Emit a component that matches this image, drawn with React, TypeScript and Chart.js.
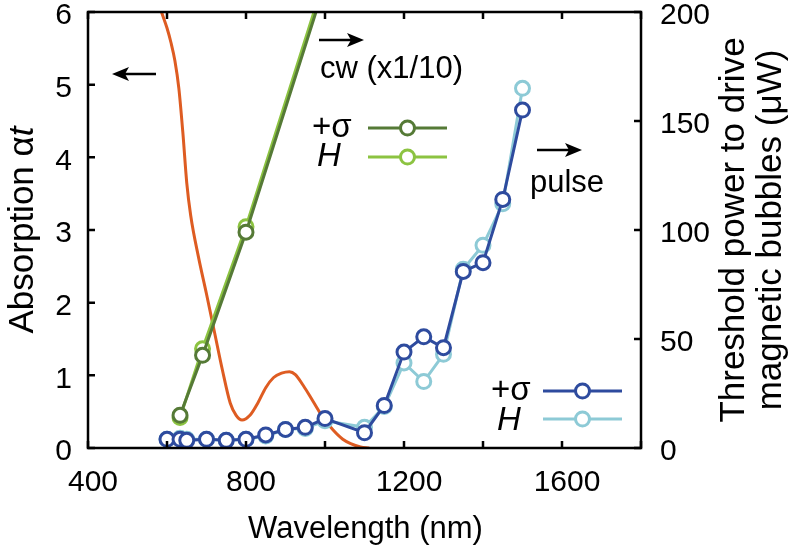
import React, { useEffect, useRef } from 'react';
import { Chart, registerables } from 'chart.js';

Chart.register(...registerables);

const FONT = '"Liberation Sans", Arial, Helvetica, sans-serif';

// tick labels
const xTickLabels = [400, 800, 1200, 1600];
const xTickMarks = [400, 600, 800, 1000, 1200, 1400, 1600, 1800];
const leftTickLabels = [0, 1, 2, 3, 4, 5, 6];
const rightTickLabels = [0, 50, 100, 150, 200];

// absorption spectrum (left axis)
const absWavelength = [586, 600, 610, 620, 630, 640, 650, 660, 680, 700, 720, 740, 760, 775, 790, 810, 830, 850, 870, 890, 910, 925, 945, 970, 995, 1020, 1045, 1065, 1090, 1112];
const absValue = [6.0, 5.78, 5.58, 5.33, 4.95, 4.35, 3.65, 3.2, 2.62, 2.12, 1.6, 1.08, 0.62, 0.45, 0.385, 0.45, 0.62, 0.83, 0.97, 1.03, 1.05, 1.01, 0.86, 0.64, 0.42, 0.25, 0.12, 0.06, 0.015, 0.0];

// cw threshold (x1/10), right axis
const cwWavelength = [633, 690, 800, 1000];
const cwSigma = [15, 42.5, 99, 213];
const cwH = [14, 45.5, 101.5, 216];

// pulse threshold, right axis
const pulseWavelength = [600, 633, 650, 700, 750, 800, 850, 900, 950, 1000, 1100, 1150, 1200, 1250, 1300, 1350, 1400, 1450, 1500];
const pulseSigma = [4, 4, 3.5, 4, 3.5, 4, 6, 8.5, 9.5, 13.5, 7, 19.5, 44, 51, 46, 81, 85, 114, 155];
const pulseH = [4, 4.5, 4, 4, 3.5, 4, 5.5, 8.5, 9, 12.5, 9.5, 19, 39, 30.5, 43, 82, 93, 112, 165];

const ORANGE = '#de5c22';
const DGREEN = '#557a36';
const LGREEN = '#8cc341';
const DBLUE = '#2e4b9e';
const LBLUE = '#8dcad6';

const pts = (xs: number[], ys: number[]) => xs.map((x, i) => ({ x, y: ys[i] }));

function arrow(ctx: CanvasRenderingContext2D, x1: number, x2: number, y: number) {
  const dir = Math.sign(x2 - x1);
  ctx.save();
  ctx.strokeStyle = '#000';
  ctx.fillStyle = '#000';
  ctx.lineWidth = 2.5;
  ctx.beginPath();
  ctx.moveTo(x1, y);
  ctx.lineTo(x2 - dir * 10, y);
  ctx.stroke();
  ctx.beginPath();
  ctx.moveTo(x2, y);
  ctx.lineTo(x2 - dir * 17, y - 7);
  ctx.lineTo(x2 - dir * 13, y);
  ctx.lineTo(x2 - dir * 17, y + 7);
  ctx.closePath();
  ctx.fill();
  ctx.restore();
}

function legendSample(ctx: CanvasRenderingContext2D, x1: number, x2: number, y: number, color: string) {
  ctx.save();
  ctx.strokeStyle = color;
  ctx.lineWidth = 3;
  ctx.beginPath();
  ctx.moveTo(x1, y);
  ctx.lineTo(x2, y);
  ctx.stroke();
  ctx.beginPath();
  ctx.arc((x1 + x2) / 2, y, 7, 0, Math.PI * 2);
  ctx.fillStyle = '#fff';
  ctx.fill();
  ctx.stroke();
  ctx.restore();
}

const decorPlugin = {
  id: 'decor',
  afterDraw(chart: any) {
    const ctx: CanvasRenderingContext2D = chart.ctx;
    const { left, right, top, bottom } = chart.chartArea;
    const xs = chart.scales.x;
    const ys = chart.scales.y;
    const ys1 = chart.scales.y1;
    ctx.save();
    // frame
    ctx.strokeStyle = '#000';
    ctx.lineWidth = 2.5;
    ctx.strokeRect(left, top, right - left, bottom - top);
    // inward ticks
    const tl = 7;
    ctx.beginPath();
    xTickMarks.forEach((v) => {
      const px = xs.getPixelForValue(v);
      ctx.moveTo(px, bottom);
      ctx.lineTo(px, bottom - tl);
      ctx.moveTo(px, top);
      ctx.lineTo(px, top + tl);
    });
    leftTickLabels.forEach((v) => {
      const py = ys.getPixelForValue(v);
      ctx.moveTo(left, py);
      ctx.lineTo(left + tl, py);
    });
    rightTickLabels.forEach((v) => {
      const py = ys1.getPixelForValue(v);
      ctx.moveTo(right, py);
      ctx.lineTo(right - tl, py);
    });
    ctx.stroke();

    // arrows and annotations
    arrow(ctx, 156, 112, 74);
    arrow(ctx, 319, 364, 40);
    arrow(ctx, 537, 582, 150);
    ctx.fillStyle = '#000';
    ctx.textAlign = 'left';
    ctx.textBaseline = 'alphabetic';
    ctx.font = `31px ${FONT}`;
    ctx.fillText('cw (x1/10)', 320, 78);
    ctx.fillText('pulse', 530, 192);

    // legends
    ctx.font = `33px ${FONT}`;
    ctx.fillText('+σ', 312, 137);
    ctx.font = `italic 33px ${FONT}`;
    ctx.fillText('H', 317, 166);
    legendSample(ctx, 368, 447, 128, DGREEN);
    legendSample(ctx, 368, 447, 157, LGREEN);

    ctx.font = `33px ${FONT}`;
    ctx.fillText('+σ', 491, 400);
    ctx.font = `italic 33px ${FONT}`;
    ctx.fillText('H', 497, 430);
    legendSample(ctx, 543, 622, 391, DBLUE);
    legendSample(ctx, 543, 622, 419, LBLUE);

    // x title
    ctx.font = `31px ${FONT}`;
    ctx.textAlign = 'center';
    ctx.fillText('Wavelength (nm)', (left + right) / 2 + 1, 538);

    // left title with italic t
    ctx.save();
    ctx.translate(23, (top + bottom) / 2);
    ctx.rotate(-Math.PI / 2);
    ctx.textBaseline = 'middle';
    ctx.textAlign = 'left';
    const LT = 35;
    ctx.font = `${LT}px ${FONT}`;
    const part1 = 'Absorption α';
    const w1 = ctx.measureText(part1).width;
    ctx.font = `italic ${LT}px ${FONT}`;
    const w2 = ctx.measureText('t').width;
    const start = -(w1 + w2) / 2;
    ctx.font = `${LT}px ${FONT}`;
    ctx.fillText(part1, start, 0);
    ctx.font = `italic ${LT}px ${FONT}`;
    ctx.fillText('t', start + w1, 0);
    ctx.restore();

    // right title
    ctx.save();
    ctx.textAlign = 'center';
    ctx.textBaseline = 'middle';
    ctx.font = `35px ${FONT}`;
    ctx.translate(734, (top + bottom) / 2);
    ctx.rotate(-Math.PI / 2);
    ctx.fillText('Threshold power to drive', 0, 0);
    ctx.fillText('magnetic bubbles (μW)', 0, 37);
    ctx.restore();

    ctx.restore();
  },
};

export default function App() {
  const ref = useRef<HTMLCanvasElement | null>(null);
  useEffect(() => {
    if (!ref.current) return;
    const lineDs = (label: string, data: any[], color: string, axis: string) => ({
      label,
      data,
      yAxisID: axis,
      borderColor: color,
      backgroundColor: color,
      borderWidth: 3,
      pointRadius: 7,
      pointBorderWidth: 3,
      pointBackgroundColor: '#fff',
      pointBorderColor: color,
      tension: 0,
      fill: false,
    });
    const tickFont = { family: FONT, size: 30 };
    const fmt = (v: any) => String(v);
    const chart = new Chart(ref.current, {
      type: 'line',
      data: {
        datasets: [
          lineDs('pulse +σ', pts(pulseWavelength, pulseSigma), DBLUE, 'y1'),
          lineDs('pulse H', pts(pulseWavelength, pulseH), LBLUE, 'y1'),
          lineDs('cw +σ', pts(cwWavelength, cwSigma), DGREEN, 'y1'),
          lineDs('cw H', pts(cwWavelength, cwH), LGREEN, 'y1'),
          {
            label: 'absorption',
            data: pts(absWavelength, absValue),
            yAxisID: 'y',
            borderColor: ORANGE,
            borderWidth: 3,
            pointRadius: 0,
            cubicInterpolationMode: 'monotone',
            fill: false,
          } as any,
        ],
      },
      options: {
        animation: false,
        responsive: false,
        layout: { padding: { top: 12, left: 0, right: 0, bottom: 0 } },
        plugins: { legend: { display: false }, tooltip: { enabled: false } },
        scales: {
          x: {
            type: 'linear',
            position: 'bottom',
            min: 400,
            max: 1800,
            grid: { display: false, drawTicks: false },
            border: { display: false },
            ticks: { font: tickFont, color: '#000', padding: 17, labelOffset: 5, maxRotation: 0, callback: fmt },
            afterBuildTicks: (s: any) => { s.ticks = xTickLabels.map((v) => ({ value: v })); },
            afterFit: (s: any) => { s.height = 98; s.paddingLeft = 0; s.paddingRight = 0; },
          },
          y: {
            type: 'linear',
            position: 'left',
            min: 0,
            max: 6,
            grid: { display: false, drawTicks: false },
            border: { display: false },
            ticks: { font: tickFont, color: '#000', padding: 16, labelOffset: 4, callback: fmt },
            afterBuildTicks: (s: any) => { s.ticks = leftTickLabels.map((v) => ({ value: v })); },
            afterFit: (s: any) => { s.width = 88; s.paddingTop = 0; s.paddingBottom = 0; },
          },
          y1: {
            type: 'linear',
            position: 'right',
            min: 0,
            max: 200,
            grid: { display: false, drawTicks: false },
            border: { display: false },
            ticks: { font: tickFont, color: '#000', padding: 19, labelOffset: 4, callback: fmt },
            afterBuildTicks: (s: any) => { s.ticks = rightTickLabels.map((v) => ({ value: v })); },
            afterFit: (s: any) => { s.width = 155; s.paddingTop = 0; s.paddingBottom = 0; },
          },
        },
      } as any,
      plugins: [decorPlugin],
    });
    return () => chart.destroy();
  }, []);
  return (
    <div style={{ position: 'fixed', left: 0, top: 0, width: 796, height: 546, background: '#fff' }}>
      <canvas ref={ref} width={796} height={546} style={{ display: 'block' }} />
    </div>
  );
}
